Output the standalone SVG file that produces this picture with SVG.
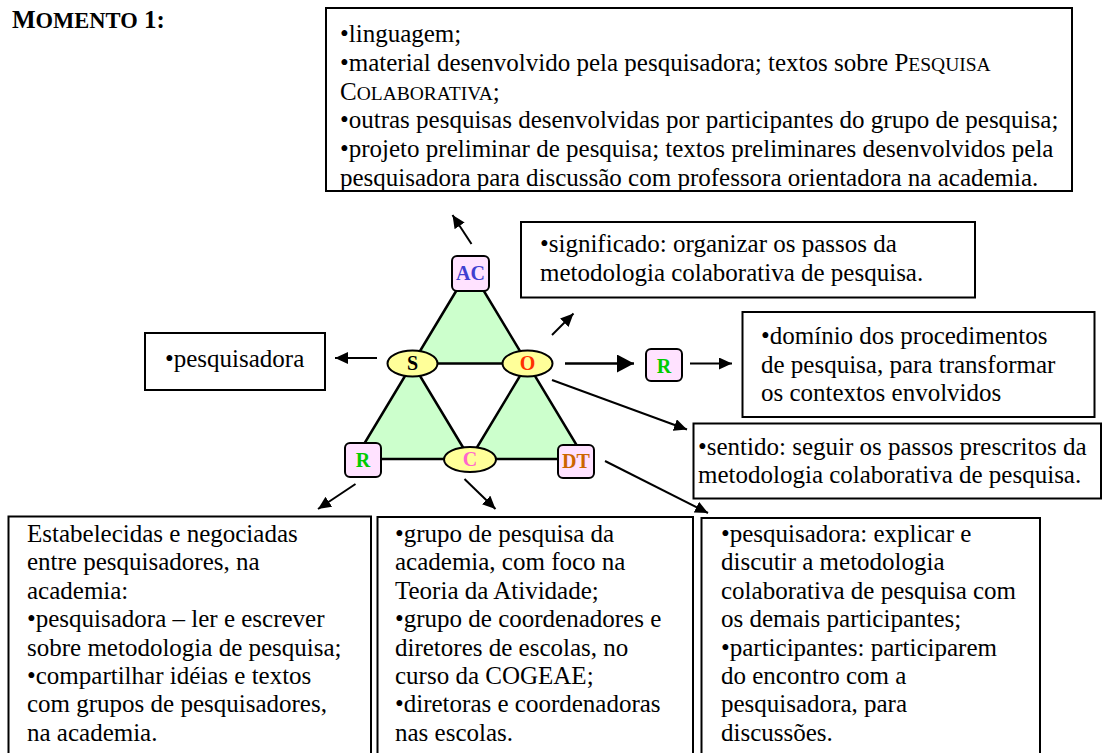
<svg xmlns="http://www.w3.org/2000/svg" width="1103" height="753" viewBox="0 0 1103 753">
<style>
.t{font-family:"Liberation Serif","Times New Roman",serif;font-size:25px;fill:#000}
.sc{font-size:19.5px}
.box{fill:#fff;stroke:#000;stroke-width:2}
.lbl{font-family:"Liberation Serif","Times New Roman",serif;font-size:20px;font-weight:bold;text-anchor:middle}
.sq{fill:#FFE2FF;stroke:#000;stroke-width:2}
.el{fill:#FFFF99;stroke:#000;stroke-width:2}
.tri{fill:#CCFFCC;stroke:none}
.edge{stroke:#000;stroke-width:2.5;fill:none}
.con{stroke:#000;stroke-width:2;fill:none;marker-end:url(#ah)}
</style>
<defs>
<marker id="ah" markerUnits="userSpaceOnUse" markerWidth="14" markerHeight="12" refX="13" refY="6" orient="auto"><path d="M0,0 L13,6 L0,12 z" fill="#000"/></marker>
<marker id="ahb" markerUnits="userSpaceOnUse" markerWidth="18" markerHeight="18" refX="17" refY="9" orient="auto"><path d="M0,0 L17,9 L0,18 z" fill="#000"/></marker>
</defs>
<rect width="1103" height="753" fill="#fff"/>
<g id="title"><text class="t" x="12" y="28" font-weight="bold" font-size="30">M<tspan font-size="22.5">OMENTO</tspan> 1:</text></g>
<g id="box-ac">
<rect class="box" x="326" y="8" width="746" height="183"/>
<text class="t" x="340"><tspan x="340" y="42">•linguagem;</tspan><tspan x="340" y="70.8">•material desenvolvido pela pesquisadora; textos sobre P<tspan class="sc">ESQUISA</tspan></tspan><tspan x="340" y="99.5">C<tspan class="sc">OLABORATIVA</tspan>;</tspan><tspan x="340" y="128.3">•outras pesquisas desenvolvidas por participantes do grupo de pesquisa;</tspan><tspan x="340" y="157">•projeto preliminar de pesquisa; textos preliminares desenvolvidos pela</tspan><tspan x="340" y="185.8">pesquisadora para discussão com professora orientadora na academia.</tspan></text>
</g>
<g id="box-significado">
<rect class="box" x="521" y="222" width="454" height="75.5"/>
<text class="t"><tspan x="540" y="252">•significado: organizar os passos da</tspan><tspan x="540" y="281">metodologia colaborativa de pesquisa.</tspan></text>
</g>
<g id="box-pesquisadora">
<rect class="box" x="145" y="333" width="180" height="57"/>
<text class="t" x="165" y="367">•pesquisadora</text>
</g>
<g id="box-dominio">
<rect class="box" x="742.5" y="312" width="352" height="105"/>
<text class="t"><tspan x="761" y="344">•domínio dos procedimentos</tspan><tspan x="761" y="372.5">de pesquisa, para transformar</tspan><tspan x="761" y="401">os contextos envolvidos</tspan></text>
</g>
<g id="box-sentido">
<rect class="box" x="693.5" y="423.5" width="407.5" height="75"/>
<text class="t"><tspan x="698" y="454.5">•sentido: seguir os passos prescritos da</tspan><tspan x="698" y="483">metodologia colaborativa de pesquisa.</tspan></text>
</g>
<g id="box-regras">
<rect class="box" x="8.5" y="516.5" width="362.5" height="250"/>
<text class="t"><tspan x="27" y="542">Estabelecidas e negociadas</tspan><tspan x="27" dy="28.4">entre pesquisadores, na</tspan><tspan x="27" dy="28.4">academia:</tspan><tspan x="27" dy="28.4">•pesquisadora – ler e escrever</tspan><tspan x="27" dy="28.4">sobre metodologia de pesquisa;</tspan><tspan x="27" dy="28.4">•compartilhar idéias e textos</tspan><tspan x="27" dy="28.4">com grupos de pesquisadores,</tspan><tspan x="27" dy="28.4">na academia.</tspan></text>
</g>
<g id="box-comunidade">
<rect class="box" x="377.5" y="517" width="315.5" height="250"/>
<text class="t"><tspan x="395" y="542">•grupo de pesquisa da</tspan><tspan x="395" dy="28.4">academia, com foco na</tspan><tspan x="395" dy="28.4">Teoria da Atividade;</tspan><tspan x="395" dy="28.4">•grupo de coordenadores e</tspan><tspan x="395" dy="28.4">diretores de escolas, no</tspan><tspan x="395" dy="28.4">curso da COGEAE;</tspan><tspan x="395" dy="28.4">•diretoras e coordenadoras</tspan><tspan x="395" dy="28.4">nas escolas.</tspan></text>
</g>
<g id="box-divisao">
<rect class="box" x="701.5" y="518" width="338.5" height="250"/>
<text class="t"><tspan x="721" y="542">•pesquisadora: explicar e</tspan><tspan x="721" dy="28.4">discutir a metodologia</tspan><tspan x="721" dy="28.4">colaborativa de pesquisa com</tspan><tspan x="721" dy="28.4">os demais participantes;</tspan><tspan x="721" dy="28.4">•participantes: participarem</tspan><tspan x="721" dy="28.4">do encontro com a</tspan><tspan x="721" dy="28.4">pesquisadora, para</tspan><tspan x="721" dy="28.4">discussões.</tspan></text>
</g>
<g id="triangle">
<polygon class="tri" points="470,268 412.5,363.5 527.5,363.5"/>
<polygon class="tri" points="412.5,363.5 355,459 470,459"/>
<polygon class="tri" points="527.5,363.5 470,459 585,459"/>
<path class="edge" d="M470,268 L355,459 L585,459 Z M412.5,363.5 L527.5,363.5 L470,459 Z"/>
</g>
<g id="connectors">
<line class="con" x1="471.5" y1="244" x2="452.5" y2="215"/>
<line class="con" x1="377" y1="358" x2="335" y2="358"/>
<line class="con" x1="552" y1="335" x2="573.5" y2="313.5"/>
<line x1="565" y1="363.5" x2="634" y2="363.5" stroke="#000" stroke-width="2.5" marker-end="url(#ahb)"/>
<line class="con" x1="690" y1="363.5" x2="732" y2="363.5"/>
<line class="con" x1="552" y1="380" x2="687" y2="429.5"/>
<line class="con" x1="355.5" y1="484" x2="318" y2="509"/>
<line class="con" x1="464.5" y1="479" x2="495.5" y2="509"/>
<line class="con" x1="605" y1="461" x2="708" y2="513"/>
</g>
<g id="node-ac"><rect class="sq" x="452" y="256" width="37" height="35" rx="5"/><text class="lbl" x="470.5" y="280" fill="#4040D0">AC</text></g>
<g id="node-s"><ellipse class="el" cx="412.5" cy="363.5" rx="25" ry="13"/><text class="lbl" x="412.5" y="370" fill="#000">S</text></g>
<g id="node-o"><ellipse class="el" cx="527.5" cy="363.5" rx="25" ry="13"/><text class="lbl" x="527.5" y="370" fill="#FF3300">O</text></g>
<g id="node-r-out"><rect class="sq" x="646" y="349" width="36" height="32" rx="5"/><text class="lbl" x="664" y="373" fill="#00CC00">R</text></g>
<g id="node-r"><rect class="sq" x="345" y="443" width="36" height="34" rx="5"/><text class="lbl" x="363" y="467" fill="#00CC00">R</text></g>
<g id="node-c"><ellipse class="el" cx="470" cy="459.5" rx="26" ry="12.5"/><text class="lbl" x="470" y="466" fill="#FF66CC">C</text></g>
<g id="node-dt"><rect class="sq" x="558" y="445" width="36" height="33" rx="5"/><text class="lbl" x="576" y="468" fill="#CC6600">DT</text></g>
</svg>
